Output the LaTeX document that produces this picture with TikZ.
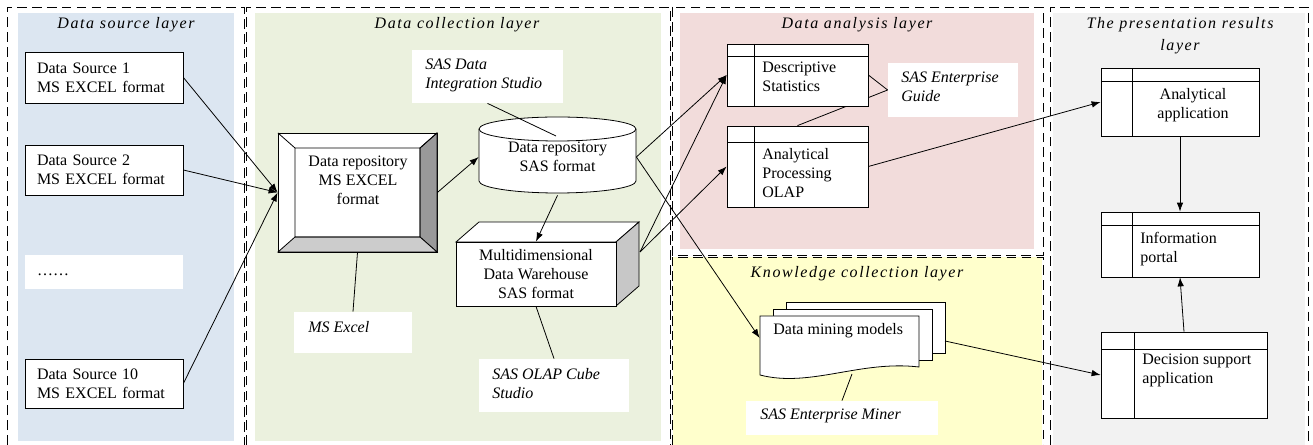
\documentclass[tikz,border=0pt]{standalone}
\usepackage{fontspec}
\setmainfont{Liberation Serif}
\newfontfamily\layerfont[LetterSpace=10]{Liberation Serif}
\usetikzlibrary{arrows.meta,calc}

\definecolor{srcblue}{HTML}{DCE6F1}
\definecolor{colgreen}{HTML}{EBF1DE}
\definecolor{anapink}{HTML}{F2DCDB}
\definecolor{knoyellow}{HTML}{FFFFCC}
\definecolor{pregray}{HTML}{F2F2F2}

\tikzset{
  layer/.style={draw, line width=.45pt, dash pattern=on 5.5pt off 3pt},
  ttl/.style={anchor=base, inner sep=0, font=\layerfont\itshape},
  srcbox/.style={draw, fill=white, text width=2.68cm, inner xsep=.24cm, align=left},
  note/.style={fill=white, inner sep=0},
  lbl/.style={anchor=north west, inner sep=0, align=left},
  store/.style 2 args={draw, fill=white, path picture={
      \draw ([yshift=-#2]path picture bounding box.north west) -- ([yshift=-#2]path picture bounding box.north east);
      \draw ([xshift=#1]path picture bounding box.north west) -- ([xshift=#1]path picture bounding box.south west);}}
}

\begin{document}
\fontsize{9.1}{10.8}\selectfont
\begin{tikzpicture}[x=0.02cm, y=-0.02cm, line width=.45pt, >={Latex[length=1.8mm,width=1.3mm]}]
\useasboundingbox (0,0) rectangle (1313,445);

% backgrounds of the layers
\fill[srcblue] (18,13) rectangle (234,441);
\fill[colgreen] (255,13) rectangle (661,441);
\fill[anapink] (680,13) rectangle (1034,249);
\fill[knoyellow] (673,257) rectangle (1042,445);
\fill[pregray] (1053,13) rectangle (1305,445);

% dashed frames
\draw[layer] (7,445) |- (244,7) -- (244,445);
\draw[layer] (246,445) |- (670,7) -- (670,445);
\draw[layer] (672,7) rectangle (1043,255);
\draw[layer] (672,445) |- (1043,257) -- (1043,445);
\draw[layer] (1050,445) |- (1308,7) -- (1308,445);

\node[ttl] (t-src) at (126,29) {Data source layer};
\node[ttl] (t-col) at (457,29) {Data collection layer};
\node[ttl] (t-ana) at (857,29) {Data analysis layer};
\node[ttl] (t-kno) at (857,278) {Knowledge collection layer};
\node[ttl, anchor=north, align=center] (t-pre) at (1180,17) {The presentation results\\[2pt]layer};

% data sources
\node[srcbox, minimum height=1.02cm] (ds1) at (104,77.5) {Data Source 1\\MS EXCEL format};
\node[srcbox, minimum height=1cm] (ds2) at (104,170) {Data Source 2\\MS EXCEL format};
\node[srcbox, draw=none, minimum height=.68cm] (dots) at (104,272) {\strut……};
\node[srcbox, minimum height=.98cm] (ds10) at (104,383.5) {Data Source 10\\MS EXCEL format};

% excel repository (bevelled)
\node[draw, fill=white, minimum width=3.18cm, minimum height=2.38cm] (xls) at (357.5,192.5) {};
\filldraw[fill=black!40] (420,148) -- (437,133) -- (437,252) -- (420,237) -- cycle;
\filldraw[fill=black!20] (295,237) -- (420,237) -- (437,252) -- (278,252) -- cycle;
\draw (278,133) -- (295,148) rectangle (420,237);
\draw (437,133) -- (420,148);
\node[anchor=north, align=center, inner sep=0] (xls-t) at (358,156) {Data repository\\MS EXCEL\\format};

\node[note, minimum width=2.36cm, minimum height=.82cm] (msx) at (353,332.5) {};
\node[lbl, font=\itshape] (msx-t) at (308,321) {MS Excel};

\node[note, minimum width=3.02cm, minimum height=1.06cm] (sdi) at (487.5,76.5) {};
\node[lbl, font=\itshape] (sdi-t) at (425,59) {SAS Data\\Integration Studio};

% sas repository (cylinder)
\filldraw[fill=white] (479,129) -- (479,181) arc[start angle=180, end angle=360, x radius=1.57cm, y radius=.24cm]
  -- (636,129) arc[start angle=0, end angle=180, x radius=1.57cm, y radius=.24cm] -- cycle;
\draw (479,129) arc[start angle=180, end angle=360, x radius=1.57cm, y radius=.24cm];
\node[minimum width=3.14cm, minimum height=1.52cm, align=center] (cyl) at (557.5,157) {Data repository\\SAS format};
\coordinate (cyl-top) at (556,136);

% data warehouse (cube)
\filldraw[fill=white] (456,242) -- (479,222) -- (639,222) -- (616,242) -- cycle;
\filldraw[fill=black!22] (616,242) -- (639,222) -- (639,286) -- (616,306) -- cycle;
\node[draw, fill=white, minimum width=3.2cm, minimum height=1.28cm, align=center] (cube) at (536,274) {Multidimensional\\Data Warehouse\\SAS format};
\coordinate (cube-r) at (640,252);

\node[note, minimum width=3cm, minimum height=1.06cm] (ocs) at (554,385.5) {};
\node[lbl, font=\itshape] (ocs-t) at (492,368) {SAS OLAP Cube\\Studio};

% analysis
\node[store={.54cm}{.32cm}, minimum width=2.82cm, minimum height=1.62cm] (olap) at (797.5,166.5) {};
\node[lbl] (olap-t) at (762,148) {Analytical\\Processing\\OLAP};
\node[note, minimum width=2.6cm, minimum height=1.08cm] (seg) at (953,90) {};
\node[lbl, font=\itshape] (seg-t) at (901,72) {SAS Enterprise\\Guide};
\draw (seg.west) -- (olap.north);
\node[store={.54cm}{.24cm}, minimum width=2.82cm, minimum height=1.24cm] (desc) at (797.5,75) {};
\node[lbl] (desc-t) at (762,62) {Descriptive\\Statistics};
\draw (seg.west) -- (desc.east);

% knowledge (documents)
\filldraw[fill=white] (786,302) rectangle (945,353);
\filldraw[fill=white] (773,309) rectangle (932,360);
\filldraw[fill=white] (760,316) -- (919,316) -- (919,367) .. controls (860,360) and (810,388) .. (760,375) -- cycle;
\node[minimum width=3.18cm, minimum height=.88cm] (dmm) at (839.5,338) {};
\node[lbl] (dmm-t) at (773,323) {Data mining models};
\coordinate (dmm-b) at (852,374);
\coordinate (dmm-o) at (945,341);

\node[note, minimum width=3.84cm, minimum height=.68cm] (mnr) at (842,418) {};
\node[lbl, font=\itshape] (mnr-t) at (760,409) {SAS Enterprise Miner};

% presentation
\node[store={.62cm}{.26cm}, minimum width=3.16cm, minimum height=1.36cm] (aa) at (1180,102) {};
\node[anchor=north, align=center, inner sep=0] (aa-t) at (1193,88) {Analytical\\application};
\node[store={.62cm}{.26cm}, minimum width=3.16cm, minimum height=1.3cm] (ip) at (1180,244.5) {};
\node[lbl] (ip-t) at (1140,232) {Information\\portal};
\node[store={.66cm}{.34cm}, minimum width=3.32cm, minimum height=1.72cm] (dsa) at (1184,375) {};
\node[lbl] (dsa-t) at (1142,354) {Decision support\\application};

% connectors
\draw[->] (ds1.east) -- (xls.west);
\draw[->] (ds2.east) -- (xls.west);
\draw[->] (ds10.east) -- (xls.west);
\draw (xls.south) -- (msx.north);
\draw[->] (xls.east) -- (cyl.west);
\draw (sdi.south) -- (cyl-top);
\draw[->] (cyl.south) -- (cube.north);
\draw (cube.south) -- (ocs.north);
\draw[->] (cyl.east) -- (desc.west);
\draw[->] (cube-r) -- (desc.west);
\draw[->] (cube-r) -- (olap.west);
\draw[->] (cyl.east) -- (dmm.west);
\draw (mnr.north) -- (dmm-b);
\draw[->] (olap.east) -- (aa.west);
\draw[->] (dmm-o) -- (dsa.west);
\draw[->] (aa.south) -- (ip.north);
\draw[->] (dsa.north) -- (ip.south);
\end{tikzpicture}
\end{document}
